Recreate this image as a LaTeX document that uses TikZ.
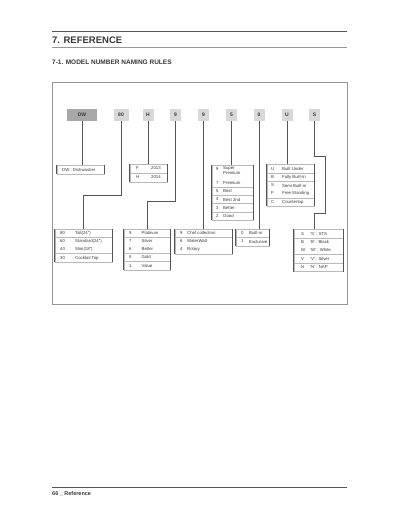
\documentclass[tikz,border=0pt]{standalone}
\usepackage{fontspec}
\setmainfont{Liberation Sans}
\usetikzlibrary{positioning}
\definecolor{rulegray}{RGB}{85,85,85}
\definecolor{framegray}{RGB}{150,150,150}
\definecolor{dwgray}{RGB}{168,168,168}
\definecolor{codegray}{RGB}{216,216,216}
\definecolor{textgray}{RGB}{55,55,55}
\definecolor{sepgray}{RGB}{185,185,185}

\tikzset{
  codebox/.style={fill=codegray, minimum width=11pt, minimum height=12pt, inner sep=0pt,
    font=\fontsize{5}{6}\selectfont\bfseries, text=textgray},
  tabbox/.style={draw=sepgray, line width=0.5pt, inner sep=0pt},
  tabside/.style={draw=rulegray, line width=0.7pt},
  tabtxt/.style={anchor=west, inner sep=0pt, align=left,
    font=\fontsize{4.3}{5}\selectfont, text=textgray},
  leader/.style={draw=rulegray, line width=0.8pt},
}

\begin{document}
\begin{tikzpicture}[x=1pt,y=-1pt]
    \useasboundingbox (0,0) rectangle (400,518);

    % Heading
    \draw[rulegray, line width=0.8pt] (52,31) -- (347,31);
    \node[anchor=west, inner sep=0pt, font=\fontsize{9.5}{11}\selectfont\bfseries, text=textgray] (title) at (52,40) {7. REFERENCE};
    \draw[framegray, line width=0.6pt] (52,47) -- (347,47);
    \node[anchor=west, inner sep=0pt, font=\fontsize{6.5}{8}\selectfont\bfseries, text=textgray] (subtitle) at (52,62) {7-1. MODEL NUMBER NAMING RULES};

    % Frame
    \draw[framegray, line width=0.8pt] (52.5,82) rectangle (347,304);

    % Model number characters
    \node[codebox, fill=dwgray, minimum width=30pt] (cDW) at (82,115) {DW};
    \node[codebox, minimum width=15pt] (c80) at (121,115) {80};
    \foreach \n/\x/\t in {cH/148/H, c9a/175.5/9, c9b/203.5/9, c5/231.5/5, c0/259/0, cU/287/U, cS/314.5/S}
        \node[codebox] (\n) at (\x,115) {\t};

    % Tables
    \node[tabbox, minimum width=47pt, minimum height=9pt] (tDW) at (80.5,169.5) {};
    \node[tabtxt] (tDW1) at (62,169.5) {DW : Dishwasher};

    \node[tabbox, minimum width=37pt, minimum height=18pt] (tH) at (148.5,173) {};
    \draw[sepgray] (tH.west |- 0,173) -- (tH.east |- 0,173);
    \foreach \y/\c/\d [count=\i] in {168.5/F/2013, 177.5/H/2014} {
        \node[tabtxt] (tHc\i) at (136,\y) {\c};
        \node[tabtxt] (tHd\i) at (151,\y) {\d};
    }

    \node[tabbox, minimum width=41pt, minimum height=55pt] (t5) at (232.5,192.5) {};
    \foreach \y in {187.5, 195.5, 203.5, 212}
        \draw[sepgray] (t5.west |- 0,\y) -- (t5.east |- 0,\y);
    \node[tabtxt] (t5c0) at (216,169) {9};
    \node[tabtxt, anchor=north west] (t5d0) at (223,166.5) {Super\\Premium};
    \foreach \y/\c/\d [count=\i] in {183/7/Premium, 191.5/5/Best, 199.5/4/Best 2nd, 208/3/Better, 216/2/Good} {
        \node[tabtxt] (t5c\i) at (216,\y) {\c};
        \node[tabtxt] (t5d\i) at (223,\y) {\d};
    }

    \node[tabbox, minimum width=47pt, minimum height=42pt] (tU) at (290.5,185) {};
    \foreach \y in {173, 181.5, 198}
        \draw[sepgray] (tU.west |- 0,\y) -- (tU.east |- 0,\y);
    \foreach \y/\c/\d [count=\i] in {169/U/Built Under, 177.5/B/Fully Built-In, 185.5/S/Semi Built-in, 193.5/F/Free Standing, 202/C/Countertop} {
        \node[tabtxt] (tUc\i) at (271,\y) {\c};
        \node[tabtxt] (tUd\i) at (282,\y) {\d};
    }

    \node[tabbox, minimum width=57pt, minimum height=32.5pt] (t80) at (83.5,245.75) {};
    \foreach \y in {237, 253.5}
        \draw[sepgray] (t80.west |- 0,\y) -- (t80.east |- 0,\y);
    \foreach \y/\c/\d [count=\i] in {233/80/Tall(24"), 241/60/Standard(24"), 249/40/Slim(18"), 258/30/Cocktail Top} {
        \node[tabtxt] (t80c\i) at (60,\y) {\c};
        \node[tabtxt] (t80d\i) at (75,\y) {\d};
    }

    \node[tabbox, minimum width=46pt, minimum height=40.5pt] (t9a) at (147,249.75) {};
    \foreach \y in {237, 253, 261.5}
        \draw[sepgray] (t9a.west |- 0,\y) -- (t9a.east |- 0,\y);
    \foreach \y/\c/\d [count=\i] in {233/9/Platinum, 241/7/Silver, 249/6/Better, 257/5/Gold, 266/1/Value} {
        \node[tabtxt] (t9ac\i) at (129,\y) {\c};
        \node[tabtxt] (t9ad\i) at (141.5,\y) {\d};
    }

    \node[tabbox, minimum width=57pt, minimum height=24.5pt] (t9b) at (203.5,241.75) {};
    \draw[sepgray] (t9b.west |- 0,237) -- (t9b.east |- 0,237);
    \foreach \y/\c/\d [count=\i] in {233/9/Chef collection, 241/6/WaterWall, 249/4/Rotary} {
        \node[tabtxt] (t9bc\i) at (180,\y) {\c};
        \node[tabtxt] (t9bd\i) at (187,\y) {\d};
    }

    \node[tabbox, minimum width=33pt, minimum height=16.5pt] (t0) at (252.5,237.75) {};
    \draw[sepgray] (t0.west |- 0,237) -- (t0.east |- 0,237);
    \foreach \y/\c/\d [count=\i] in {233/0/Built-in, 241.5/1/Exclusive} {
        \node[tabtxt] (t0c\i) at (241,\y) {\c};
        \node[tabtxt] (t0d\i) at (249,\y) {\d};
    }

    \node[tabbox, minimum width=49pt, minimum height=42pt] (tS) at (318.5,250.5) {};
    \foreach \y in {238, 254.5, 263}
        \draw[sepgray] (tS.west |- 0,\y) -- (tS.east |- 0,\y);
    \foreach \y/\c/\d [count=\i] in {234/S/'S' : STS, 242/B/'B' : Black, 250/W/'W' : White, 259/V/'V' : Silver, 267/N/'N' : NAP} {
        \node[tabtxt] (tSc\i) at (301,\y) {\c};
        \node[tabtxt] (tSd\i) at (310,\y) {\d};
    }

    % Table sides
    \foreach \t in {tDW, tH, t5, tU, t80, t9a, t9b, t0, tS}
        \draw[tabside] (\t.north west) -- (\t.south west) (\t.north east) -- (\t.south east);

    % Leaders
    \coordinate (j80) at (83.5,195);
    \coordinate (j9a) at (147,201);
    \coordinate (jS1) at (325,156);
    \coordinate (jS2) at (325,213);
    \draw[leader] (cDW.south) -- (cDW.south |- tDW.north);
    \draw[leader] (c80.south) |- (j80) -- (t80.north);
    \draw[leader] (cH.south) -- (cH.south |- tH.north);
    \draw[leader] (c9a.south) |- (j9a) -- (t9a.north);
    \draw[leader] (c9b.south) -- (c9b.south |- t9b.north);
    \draw[leader] (c5.south) -- (c5.south |- t5.north);
    \draw[leader] (c0.south) -- (c0.south |- t0.north);
    \draw[leader] (cU.south) -- (cU.south |- tU.north);
    \draw[leader] (cS.south) |- (jS1) -- (jS2) -| (cS.south |- tS.north);

    % Footer
    \draw[rulegray, line width=0.8pt] (52,487.7) -- (347,487.7);
    \node[anchor=west, inner sep=0pt, font=\fontsize{5.5}{7}\selectfont\bfseries, text=textgray] (footer) at (52,494) {66 \_ Reference};
\end{tikzpicture}
\end{document}
